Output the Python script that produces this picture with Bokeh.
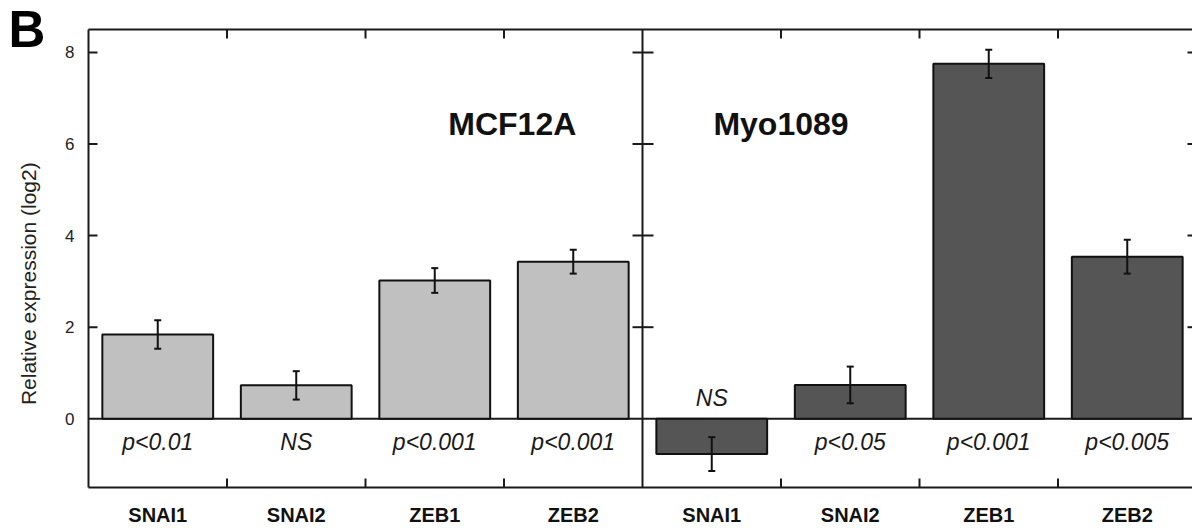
import math
from bokeh.plotting import figure
from bokeh.models import Range1d
from bokeh.core.properties import value
from bokeh.embed import file_html
from bokeh.resources import INLINE

# ---- data ----
genes = ["SNAI1", "SNAI2", "ZEB1", "ZEB2"]
cell_lines = ["MCF12A", "Myo1089"]
mcf_values = [1.84, 0.73, 3.02, 3.43]
mcf_errors = [0.31, 0.31, 0.27, 0.26]
mcf_pvals = ["p<0.01", "NS", "p<0.001", "p<0.001"]
myo_values = [-0.77, 0.74, 7.75, 3.54]
myo_errors = [0.37, 0.40, 0.31, 0.37]
myo_pvals = ["NS", "p<0.05", "p<0.001", "p<0.005"]
y_ticks = [0, 2, 4, 6, 8]
y_label = "Relative expression (log2)"
panel_letter = "B"

FONT = "Liberation Sans"
LINE = "#1a1a1a"
PX_X = 138.5   # px per x unit
PX_Y = 45.8    # px per y unit
YMIN, YMAX = -1.5, 8.5
W, H = 1192, 531
LEFT, TOP, BOTTOM = 88, 29, 44

n = len(genes)
XMAX = (W - LEFT) / PX_X
x_range = Range1d(-LEFT / PX_X, XMAX)
y_range = Range1d(YMIN - BOTTOM / PX_Y, YMAX + TOP / PX_Y)

x_left = [i + 0.5 for i in range(n)]
x_right = [n + i + 0.5 for i in range(n)]
xs = x_left + x_right
vals = mcf_values + myo_values
errs = mcf_errors + myo_errors
pvals = mcf_pvals + myo_pvals
colors = ["#c0c0c0"] * n + ["#555555"] * n

p = figure(width=W, height=H, x_range=x_range, y_range=y_range,
           output_backend="svg", toolbar_location=None,
           x_axis_type=None, y_axis_type=None, min_border=0)
p.outline_line_color = None
p.xgrid.grid_line_color = None
p.ygrid.grid_line_color = None
p.background_fill_color = "white"
p.border_fill_color = "white"

# frame lines: left, top, bottom, divider, zero line
p.segment(x0=[0, 0, 0, n, 0], y0=[YMIN, YMAX, YMIN, YMIN, 0],
          x1=[0, XMAX, XMAX, n, XMAX], y1=[YMAX, YMAX, YMIN, YMAX, 0],
          line_color=LINE, line_width=2)

# y ticks: left edge (inward), divider (both sides), right edge (inward)
tk = [t for t in y_ticks if t != 0]
m = len(tk)
p.segment(x0=[0] * m + [n - 10 / PX_X] * m + [2 * n - 9 / PX_X] * m,
          y0=tk * 3,
          x1=[9 / PX_X] * m + [n + 11 / PX_X] * m + [2 * n] * m,
          y1=tk * 3, line_color=LINE, line_width=2)

# x boundary ticks top & bottom (inward)
bounds = [i for i in range(1, 2 * n) if i != n]
k = len(bounds)
p.segment(x0=bounds * 2, y0=[YMIN] * k + [YMAX] * k,
          x1=bounds * 2, y1=[YMIN + 9 / PX_Y] * k + [YMAX - 9 / PX_Y] * k,
          line_color=LINE, line_width=2)

# y tick labels
p.text(x=[-14 / PX_X] * len(y_ticks), y=y_ticks, text=[str(t) for t in y_ticks],
       text_font=value(FONT), text_font_size="17px", text_align="right",
       text_baseline="middle", text_color="#222222")

# bars
p.vbar(x=xs, top=vals, bottom=0, width=0.8, fill_color=colors,
       line_color="#111111", line_width=2)

# error bars
lo = [v - e for v, e in zip(vals, errs)]
hi = [v + e for v, e in zip(vals, errs)]
cap = 3.5 / PX_X
p.segment(x0=xs, y0=lo, x1=xs, y1=hi, line_color="#111111", line_width=2)
p.segment(x0=[x - cap for x in xs] * 2, y0=lo + hi, x1=[x + cap for x in xs] * 2, y1=lo + hi,
          line_color="#111111", line_width=2)

# p-value labels (below zero line for positive bars, above for negative)
py = [-0.507 if v >= 0 else 0.454 for v in vals]
p.text(x=xs, y=py, text=pvals, text_font=value(FONT), text_font_style="italic",
       text_font_size="23px", text_align="center", text_baseline="middle",
       text_color="#1a1a1a")

# gene labels below
p.text(x=xs, y=[-2.111] * len(xs), text=genes + genes, text_font=value(FONT),
       text_font_style="bold", text_font_size="20px", text_align="center",
       text_baseline="middle", text_color="#111111")

# cell line titles
p.text(x=[3.06, 5.0], y=[6.437, 6.437], text=cell_lines, text_font=value(FONT),
       text_font_style="bold", text_font_size="32px", text_align="center",
       text_baseline="middle", text_color="#111111")

# y axis label
p.text(x=[-0.43], y=[2.95], text=[y_label], angle=math.pi / 2,
       text_font=value(FONT), text_font_size="21px", text_align="center",
       text_baseline="middle", text_color="#222222")

# panel letter
p.text(x=[-0.578], y=[8.49], text=[panel_letter], text_font=value(FONT),
       text_font_style="bold", text_font_size="51px", text_align="left",
       text_baseline="middle", text_color="#000000")

open("out.html", "w").write(file_html(p, INLINE))
